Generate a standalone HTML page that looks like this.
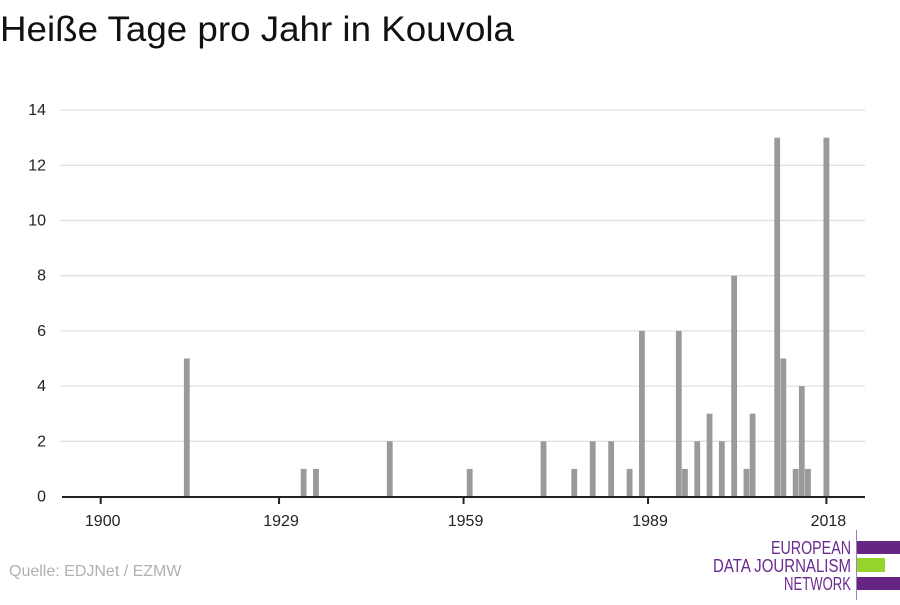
<!DOCTYPE html>
<html><head><meta charset="utf-8"><style>
body{margin:0;background:#fff;width:900px;height:600px;overflow:hidden;font-family:"Liberation Sans",sans-serif}
</style></head><body>
<svg width="900" height="600" xmlns="http://www.w3.org/2000/svg">
<text x="0" y="41" font-size="35" fill="#111" textLength="514" lengthAdjust="spacingAndGlyphs">Heiße Tage pro Jahr in Kouvola</text>
<g id="grid"></g>
<g id="bars"></g>
<g id="axes"></g>
<text x="9" y="576" font-size="16" fill="#b0b0b0">Quelle: EDJNet / EZMW</text>
<g font-family="'Liberation Sans Narrow','Liberation Sans',sans-serif" font-size="18" fill="#6a2a8f" text-anchor="end">
<text x="851" y="554" textLength="80" lengthAdjust="spacingAndGlyphs">EUROPEAN</text>
<text x="851" y="572" textLength="138" lengthAdjust="spacingAndGlyphs">DATA JOURNALISM</text>
<text x="851" y="590" textLength="67" lengthAdjust="spacingAndGlyphs">NETWORK</text>
<line x1="856.5" y1="530" x2="856.5" y2="600" stroke="#a080c0" stroke-width="1"/>
<rect x="857" y="541" width="43" height="13" fill="#662483"/>
<rect x="857" y="558" width="28" height="14" fill="#95d42b"/>
<rect x="857" y="577" width="43" height="13" fill="#662483"/>
</g>
</svg>
<script>
const years=[1914,1933,1935,1947,1960,1972,1977,1980,1983,1986,1988,1994,1995,1997,1999,2001,2003,2005,2006,2010,2011,2013,2014,2015,2018];
const values=[5,1,1,2,1,2,1,2,2,1,6,6,1,2,3,2,8,1,3,13,5,1,4,1,13];
const yTicks=[0,2,4,6,8,10,12,14];
const xTicks=[1900,1929,1959,1989,2018];
const NS="http://www.w3.org/2000/svg";
const x=y=>100.7+(y-1900)*6.15;
const yS=v=>496.5-v*27.6;
function mk(t,a,p){const e=document.createElementNS(NS,t);for(const k in a)e.setAttribute(k,a[k]);p.appendChild(e);return e;}
const grid=document.getElementById('grid'),bars=document.getElementById('bars'),axes=document.getElementById('axes');
yTicks.forEach(v=>{
 if(v>0){const l=mk('line',{x1:60,x2:865,y1:yS(v),y2:yS(v),stroke:'#e0e0e0','stroke-width':1.3},grid);
 
 }
 const t=mk('text',{x:46,y:yS(v)+5,'font-size':16,fill:'#222','text-anchor':'end'},axes);
 t.textContent=v;
 
 
});
years.forEach((yr,i)=>{
 const r=mk('rect',{x:x(yr)-2.9,y:yS(values[i]),width:5.8,height:yS(0)-yS(values[i]),fill:'#9a9a9a'},bars);
 
 
});
const ax=mk('line',{x1:62,x2:865,y1:497,y2:497,stroke:'#222','stroke-width':2},axes);


xTicks.forEach(v=>{
 const l=mk('line',{x1:x(v),x2:x(v),y1:497,y2:504,stroke:'#222','stroke-width':2},axes);
 
 
 const t=mk('text',{x:x(v)+2,y:526,'font-size':16,fill:'#222','text-anchor':'middle'},axes);
 t.textContent=v;
 
 
});
</script>
</body></html>
